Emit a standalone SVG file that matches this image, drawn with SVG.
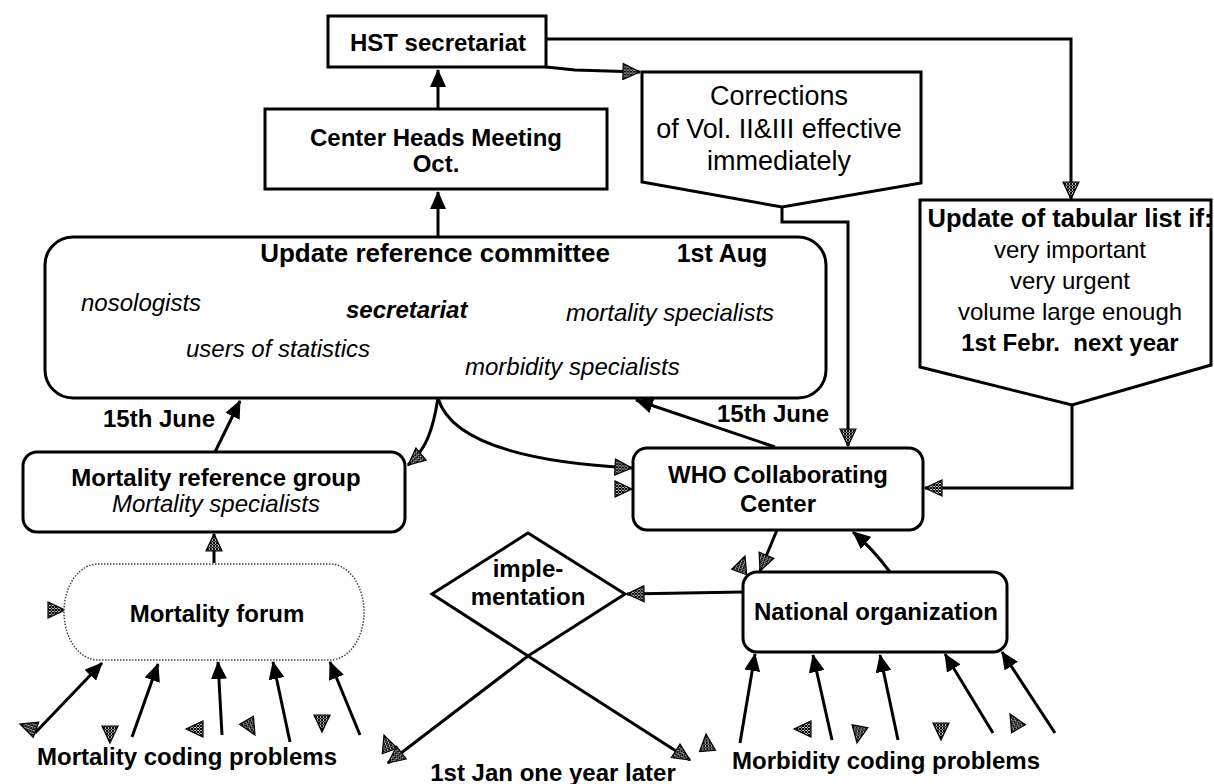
<svg xmlns="http://www.w3.org/2000/svg" width="1214" height="784" viewBox="0 0 1214 784">
<style>
.box{fill:#fff;stroke:#000;stroke-width:3}
.ln{fill:none;stroke:#000;stroke-width:3}
.dot{fill:#fff;stroke:#444;stroke-width:1.5;stroke-dasharray:1.5 1.5}
.t{font-family:"Liberation Sans",Arial,sans-serif;font-size:24px;fill:#000}
.m{text-anchor:middle}
.b{font-weight:bold}
.i{font-style:italic}
.hatch{fill:url(#hp);stroke:#000;stroke-width:1.2}
</style>
<defs>
<pattern id="hp" patternUnits="userSpaceOnUse" width="3" height="3">
<rect width="3" height="3" fill="#fff"/>
<path d="M0,0 L3,3 M3,0 L0,3" stroke="#000" stroke-width="1.1"/>
</pattern>
<marker id="fa" markerUnits="userSpaceOnUse" markerWidth="18" markerHeight="16" viewBox="0 0 18 16" refX="17" refY="8" orient="auto"><path d="M0,0 L18,8 L0,16 z" fill="#000"/></marker>
<marker id="ha" markerUnits="userSpaceOnUse" markerWidth="20" markerHeight="18" viewBox="0 0 20 18" refX="18" refY="9" orient="auto"><path d="M1,1 L18,9 L1,17 z" class="hatch"/></marker>
<path id="tri" d="M0,0 L-17,-8 L-17,8 Z" class="hatch"/>
</defs>

<g id="connectors">
<path class="ln" d="M438,109 L438,70" marker-end="url(#fa)"/>
<path class="ln" d="M438,237 L438,192" marker-end="url(#fa)"/>
<path class="ln" d="M546,67 L575,70 L640,72" marker-end="url(#ha)"/>
<path class="ln" d="M546,39 L1071,39 L1071,199" marker-end="url(#ha)"/>
<path class="ln" d="M782,207 L782,222 L848,222 L848,446" marker-end="url(#ha)"/>
<path class="ln" d="M1072,405 L1072,488 L925,488" marker-end="url(#ha)"/>
<path class="ln" d="M775,447 L636,400" marker-end="url(#fa)"/>
<path class="ln" d="M215,452 L240,401" marker-end="url(#fa)"/>
<path class="ln" d="M438,398 C433,430 426,450 408,465" marker-end="url(#ha)"/>
<path class="ln" d="M438,398 C450,440 520,462 632,468" marker-end="url(#ha)"/>
<path class="ln" d="M214,563 L214,534" marker-end="url(#ha)"/>
<path class="ln" d="M777,530 L760,571" marker-end="url(#ha)"/>
<path class="ln" d="M890,572 Q872,548 853,532" marker-end="url(#fa)"/>
<path class="ln" d="M743,592 L627,594" marker-end="url(#ha)"/>
<path class="ln" d="M528,656 L388,763" marker-end="url(#ha)"/>
<path class="ln" d="M528,656 L690,760" marker-end="url(#ha)"/>
<path class="ln" d="M35,733 L102,663" marker-end="url(#fa)"/>
<path class="ln" d="M132,737 L158,664" marker-end="url(#fa)"/>
<path class="ln" d="M222,735 L218,662" marker-end="url(#fa)"/>
<path class="ln" d="M290,742 L273,662" marker-end="url(#fa)"/>
<path class="ln" d="M360,735 L330,662" marker-end="url(#fa)"/>
<path class="ln" d="M740,743 L755,654" marker-end="url(#fa)"/>
<path class="ln" d="M832,740 L813,655" marker-end="url(#fa)"/>
<path class="ln" d="M898,740 L880,655" marker-end="url(#fa)"/>
<path class="ln" d="M993,733 L945,654" marker-end="url(#fa)"/>
<path class="ln" d="M1055,733 L1002,652" marker-end="url(#fa)"/>
<use href="#tri" transform="translate(65,610)"/>
<use href="#tri" transform="translate(20,724) rotate(200)"/>
<use href="#tri" transform="translate(110,743) rotate(90)"/>
<use href="#tri" transform="translate(186,729) rotate(180)"/>
<use href="#tri" transform="translate(255,735) rotate(60)"/>
<use href="#tri" transform="translate(322,732) rotate(90)"/>
<use href="#tri" transform="translate(384,735) rotate(-110)"/>
<use href="#tri" transform="translate(706,734) rotate(-95)"/>
<use href="#tri" transform="translate(632,489)"/>
<use href="#tri" transform="translate(745,556) rotate(-70)"/>
<use href="#tri" transform="translate(794,729) rotate(180)"/>
<use href="#tri" transform="translate(857,743) rotate(100)"/>
<use href="#tri" transform="translate(941,740) rotate(90)"/>
<use href="#tri" transform="translate(1010,714) rotate(-120)"/>
</g>

<g id="hst">
<rect class="box" x="328" y="16" width="218" height="51"/>
<text class="t b m" x="438" y="51">HST secretariat</text>
</g>

<g id="center-heads">
<rect class="box" x="265" y="109" width="342" height="80"/>
<text class="t b m" x="436" y="146">Center Heads Meeting</text>
<text class="t b m" x="436" y="172">Oct.</text>
</g>

<g id="corrections">
<path class="box" d="M642,72 L921,72 L921,183 L782,207 L642,182 Z"/>
<text class="t m" style="font-size:27px" x="779" y="105">Corrections</text>
<text class="t m" style="font-size:27px" x="779" y="138">of Vol. II&amp;III effective</text>
<text class="t m" style="font-size:27px" x="779" y="170">immediately</text>
</g>

<g id="tabular">
<path class="box" d="M920,200 L1211,200 L1211,365 L1072,405 L920,367 Z"/>
<text class="t b m" style="font-size:25.5px" x="1070" y="227">Update of tabular list if:</text>
<text class="t m" x="1070" y="258">very important</text>
<text class="t m" x="1070" y="289">very urgent</text>
<text class="t m" x="1070" y="320">volume large enough</text>
<text class="t b m" x="1070" y="351" xml:space="preserve">1st Febr.  next year</text>
</g>

<g id="committee">
<rect class="box" x="45" y="237" width="781" height="161" rx="28"/>
<text class="t b m" style="font-size:26px" x="435" y="262">Update reference committee</text>
<text class="t b m" style="font-size:25px" x="722" y="262">1st Aug</text>
<text class="t i" x="81" y="311">nosologists</text>
<text class="t i b" x="346" y="318">secretariat</text>
<text class="t i" x="566" y="321">mortality specialists</text>
<text class="t i" x="186" y="357">users of statistics</text>
<text class="t i" x="465" y="375">morbidity specialists</text>
</g>

<g id="who">
<rect class="box" x="633" y="448" width="290" height="82" rx="14"/>
<text class="t b m" x="778" y="483">WHO Collaborating</text>
<text class="t b m" x="778" y="512">Center</text>
<text class="t b m" x="773" y="422">15th June</text>
</g>

<g id="mortality-ref">
<rect class="box" x="23" y="452" width="382" height="80" rx="14"/>
<text class="t b m" x="216" y="486">Mortality reference group</text>
<text class="t i m" x="216" y="512">Mortality specialists</text>
<text class="t b m" x="159" y="427">15th June</text>
</g>

<g id="mortality-forum">
<rect class="dot" x="64" y="564" width="300" height="96" rx="34" ry="48"/>
<text class="t b m" x="217" y="622">Mortality forum</text>
</g>

<g id="implementation">
<path class="ln" style="fill:#fff" d="M432,594 L528,533 L625,594 L528,656 Z"/>
<text class="t b m" x="528" y="577">imple-</text>
<text class="t b m" x="528" y="605">mentation</text>
</g>

<g id="national">
<rect class="box" x="743" y="572" width="264" height="80" rx="14"/>
<text class="t b m" x="876" y="620">National organization</text>
</g>

<g id="labels">
<text class="t b m" x="187" y="765">Mortality coding problems</text>
<text class="t b m" x="553" y="781">1st Jan one year later</text>
<text class="t b m" x="886" y="769">Morbidity coding problems</text>
</g>
</svg>
